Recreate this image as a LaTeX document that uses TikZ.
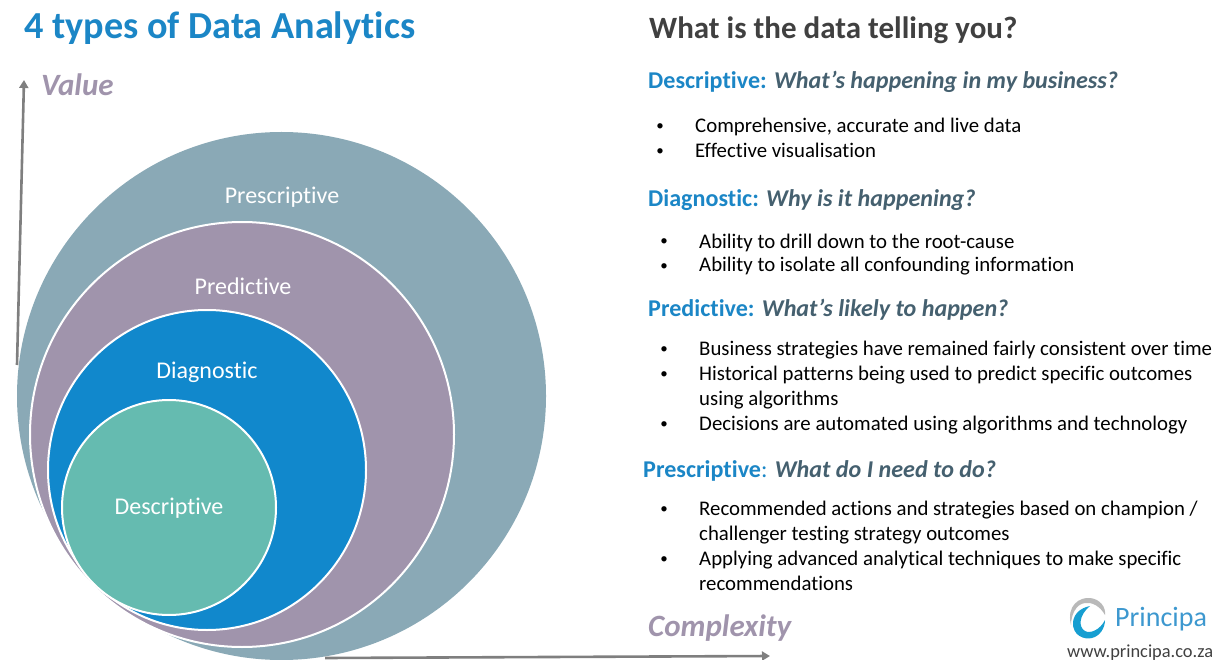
\documentclass[tikz,border=0pt]{standalone}
\usepackage{fontspec}
\setmainfont{Carlito}[Ligatures=NoCommon]
\usetikzlibrary{arrows.meta}
\definecolor{presc}{HTML}{8AA9B6}
\definecolor{predi}{HTML}{A094AC}
\definecolor{diagn}{HTML}{1188CC}
\definecolor{descr}{HTML}{65BBB0}
\definecolor{blueT}{HTML}{1B86C6}
\definecolor{slateT}{HTML}{45606F}
\definecolor{darkT}{HTML}{404040}
\definecolor{axisG}{HTML}{7F7F7F}
\tikzset{
  ringfill/.style={draw=white,line width=2pt},
  ringlabel/.style={text=white,font=\fontsize{24}{26}\selectfont,inner sep=0pt},
  head/.style={anchor=base west,inner sep=0pt,font=\fontsize{24.1}{26}\selectfont\bfseries,text=blueT},
  item/.style={anchor=base west,inner sep=0pt,font=\fontsize{20.8}{24}\selectfont,text=black},
  dotm/.style={anchor=base,inner sep=0pt,font=\fontsize{15}{16}\selectfont,text=black},
  axislabel/.style={anchor=base west,inner sep=0pt,font=\fontsize{31}{33}\selectfont\bfseries\itshape,text=predi},
  axisline/.style={draw=axisG,line width=2.6pt,-{Triangle[length=8pt,width=9pt]}}
}
\newcommand{\qq}[1]{\textcolor{slateT}{\itshape #1}}
\begin{document}
\begin{tikzpicture}[x=1pt,y=-1pt]
\useasboundingbox (0,0) rectangle (1217,660);
% axes
\coordinate (vs) at (17,365);
\coordinate (ve) at (24,80);
\coordinate (cs) at (325,658);
\coordinate (ce) at (770,656);
\draw[axisline] (vs) -- (ve);
% rings
\fill[presc] (281.5,396) ellipse [x radius=264.5,y radius=264];
\filldraw[fill=predi,ringfill] (242,434.5) ellipse [x radius=212,y radius=212.5];
\filldraw[fill=diagn,ringfill] (207,470) ellipse [x radius=159,y radius=160];
\filldraw[fill=descr,ringfill] (169,507.5) ellipse [x radius=107,y radius=107.5];
\draw[axisline] (cs) -- (ce);
% ring labels
\node[ringlabel] (lpresc) at (282,197) {Prescriptive};
\node[ringlabel] (lpredi) at (243,286) {Predictive};
\node[ringlabel] (ldiagn) at (207,372) {Diagnostic};
\node[ringlabel] (ldescr) at (169,508) {Descriptive};
% titles
\node[anchor=base west,inner sep=0pt,font=\fontsize{38.2}{40}\selectfont\bfseries,text=blueT] (title) at (24,39) {4 types of Data Analytics};
\node[anchor=base west,inner sep=0pt,font=\fontsize{31}{33}\selectfont\bfseries,text=darkT] (rtitle) at (649,39) {What is the data telling you?};
\node[axislabel] (value) at (41,96) {Value};
\node[axislabel] (complexity) at (648,636) {Complexity};
% Descriptive
\node[head] (h1) at (648,89) {Descriptive: \qq{What’s happening in my business?}};
\node[dotm] (d1a) at (660,131) {•};
\node[item] (t1a) at (695,133) {Comprehensive, accurate and live data};
\node[dotm] (d1b) at (660,156) {•};
\node[item] (t1b) at (695,158) {Effective visualisation};
% Diagnostic
\node[head] (h2) at (648,207) {Diagnostic: \qq{Why is it happening?}};
\node[dotm] (d2a) at (664,246) {•};
\node[item] (t2a) at (699,248) {Ability to drill down to the root-cause};
\node[dotm] (d2b) at (664,270) {•};
\node[item] (t2b) at (699,272) {Ability to isolate all confounding information};
% Predictive
\node[head] (h3) at (648,316) {Predictive: \qq{What’s likely to happen?}};
\node[dotm] (d3a) at (664,353) {•};
\node[item] (t3a) at (699,355) {Business strategies have remained fairly consistent over time};
\node[dotm] (d3b) at (664,378) {•};
\node[item] (t3b) at (699,380) {Historical patterns being used to predict specific outcomes};
\node[item] (t3c) at (699,405) {using algorithms};
\node[dotm] (d3c) at (664,428) {•};
\node[item] (t3d) at (699,430) {Decisions are automated using algorithms and technology};
% Prescriptive
\node[head] (h4) at (643,477) {Prescriptive\textmd{:} \qq{What do I need to do?}};
\node[dotm] (d4a) at (664,513) {•};
\node[item] (t4a) at (699,515) {Recommended actions and strategies based on champion /};
\node[item] (t4b) at (699,540) {challenger testing strategy outcomes};
\node[dotm] (d4b) at (664,563) {•};
\node[item] (t4c) at (699,565) {Applying advanced analytical techniques to make specific};
\node[item] (t4d) at (699,590) {recommendations};
% logo
\fill[gray!55] (1071,625) .. controls (1066,605) and (1080,597) .. (1090,598) .. controls (1100,599) and (1106,607) .. (1105,615) .. controls (1100,606) and (1092,602) .. (1085,603) .. controls (1076,604) and (1071,615) .. (1071,625) -- cycle;
\fill[blueT!80!cyan] (1073,622) .. controls (1072,636) and (1085,640) .. (1092,638) .. controls (1100,636) and (1105,628) .. (1105,620) .. controls (1100,630) and (1090,634) .. (1085,631) .. controls (1078,627) and (1079,615) .. (1090,606) .. controls (1080,608) and (1074,614) .. (1073,622) -- cycle;
\node[anchor=base west,inner sep=0pt,font=\fontsize{28}{30}\selectfont,text=blueT!85!white] (brand) at (1115,626) {Principa};
\node[anchor=base west,inner sep=0pt,font=\fontsize{18.4}{20}\selectfont,text=darkT] (url) at (1067,657) {www.principa.co.za};
\end{tikzpicture}
\end{document}
